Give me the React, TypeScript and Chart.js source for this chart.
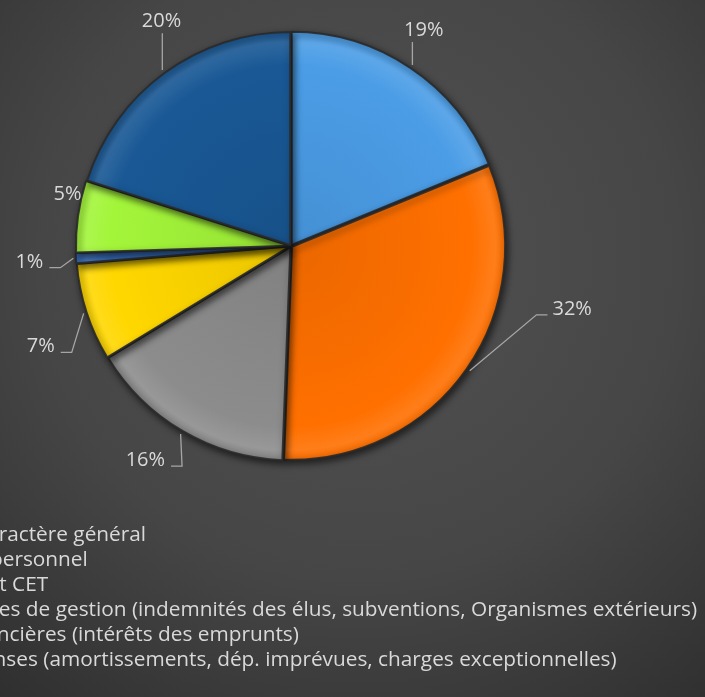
import React, { useEffect, useRef } from "react";
import { Chart, registerables } from "chart.js";

Chart.register(...registerables);

// ---- data ----
const categories: string[] = [
  "Charges à caractère général",
  "Charges de personnel",
  "Fonds FPIC et CET",
  "Autres charges de gestion (indemnités des élus, subventions, Organismes extérieurs)",
  "Charges financières (intérêts des emprunts)",
  "Autres dépenses (amortissements, dép. imprévues, charges exceptionnelles)",
  "Épargne",
];
const shares: number[] = [18.8, 31.8, 15.7, 7.4, 0.8, 5.4, 20.1];
const sliceColors: string[] = ["#4b9de6", "#ff7000", "#8c8c8c", "#ffd700", "#3a74c8", "#a3f53a", "#195895"];

// ---- label layout tweaks (Excel "best fit" placement) ----
const labelNudges: number[][] = [[-12, -1], [68, -87], [-14, -11], [-3, 19], [-2, 0], [34, -17], [24, -16]];
const labelLeaders: boolean[] = [true, true, true, true, true, false, true];

const PAGE_SHIFT = 140; // canvas starts left of the page edge (legend markers are cut off)
const FONT = "20px 'Open Sans'";
const LEGEND_FONT = "20.8px 'Open Sans'";

function shade(hex: string, f: number): string {
  const n = parseInt(hex.slice(1), 16);
  let r = (n >> 16) & 255, g = (n >> 8) & 255, b = n & 255;
  const adj = (c: number) => (f >= 0 ? Math.round(c + (255 - c) * f) : Math.round(c * (1 + f)));
  r = adj(r); g = adj(g); b = adj(b);
  return `rgb(${r},${g},${b})`;
}

const decorPlugin = {
  id: "decor",
  beforeDraw(chart: any) {
    const { ctx, width, height } = chart;
    const cx = PAGE_SHIFT + 360, cy = 260;
    const g = ctx.createRadialGradient(cx, cy, 0, cx, cy, 580);
    g.addColorStop(0, "#525252");
    g.addColorStop(0.55, "#464646");
    g.addColorStop(1, "#2e2e2e");
    ctx.save();
    ctx.fillStyle = g;
    ctx.fillRect(0, 0, width, height);
    ctx.restore();
  },
  beforeDatasetsDraw(chart: any) {
    const ctx = chart.ctx;
    ctx.save();
    ctx.shadowColor = "rgba(0,0,0,0.6)";
    ctx.shadowBlur = 7;
    ctx.shadowOffsetX = 2;
    ctx.shadowOffsetY = 3;
  },
  afterDatasetsDraw(chart: any) {
    const ctx = chart.ctx;
    ctx.restore();
    const meta = chart.getDatasetMeta(0);
    const data = chart.data.datasets[0].data as number[];
    const total = data.reduce((a, b) => a + b, 0);
    ctx.save();
    ctx.font = FONT;
    ctx.fillStyle = "#d9d9d9";
    ctx.strokeStyle = "#a6a6a6";
    ctx.lineWidth = 1.3;
    meta.data.forEach((arc: any, i: number) => {
      const p = arc.getProps(["x", "y", "startAngle", "endAngle", "outerRadius"], true);
      const off = arc.options.offset || 0;
      const mid = (p.startAngle + p.endAngle) / 2;
      const cos = Math.cos(mid), sin = Math.sin(mid);
      const d = 260;
      const lx = p.x + cos * d + labelNudges[i][0];
      const ly = p.y + sin * d + labelNudges[i][1];
      const txt = Math.round((data[i] / total) * 100) + "%";
      const w = ctx.measureText(txt).width;
      const left = lx - w / 2, right = lx + w / 2;
      const base = ly + 7, top = ly - 7;
      ctx.textAlign = "left";
      ctx.textBaseline = "alphabetic";
      ctx.fillText(txt, left, base);
      if (labelLeaders[i]) {
        const ex = p.x + cos * (p.outerRadius + off);
        const ey = p.y + sin * (p.outerRadius + off);
        ctx.beginPath();
        if (ex >= left && ex <= right) {
          ctx.moveTo(ex, ey);
          ctx.lineTo(ex, ey > ly ? base + 6 : top - 6);
        } else if (ex < left) {
          ctx.moveTo(left - 5, base);
          ctx.lineTo(left - 16, base);
          ctx.lineTo(ex, ey);
        } else {
          ctx.moveTo(right + 6, base);
          ctx.lineTo(right + 17, base);
          ctx.lineTo(ex, ey);
        }
        ctx.stroke();
      }
    });
    // legend (vertical list below the pie, starting off the left edge)
    const labels = chart.data.labels as string[];
    ctx.font = LEGEND_FONT;
    const tx = PAGE_SHIFT - 124;
    labels.forEach((lab, i) => {
      const by = 541 + 25 * i;
      ctx.fillStyle = sliceColors[i];
      ctx.fillRect(tx - 18, by - 11, 11, 11);
      ctx.fillStyle = "#d9d9d9";
      ctx.fillText(lab, tx, by);
    });
    ctx.restore();
  },
};

export default function App() {
  const ref = useRef<HTMLCanvasElement | null>(null);
  useEffect(() => {
    if (!ref.current) return;
    const chart = new Chart(ref.current, {
      type: "pie",
      data: {
        labels: categories,
        datasets: [
          {
            data: shares,
            backgroundColor: (c: any) => {
              const base = sliceColors[c.dataIndex] || "#888";
              const area = c.chart.chartArea;
              if (!area) return base;
              const cx = (area.left + area.right) / 2, cy = (area.top + area.bottom) / 2;
              const g = c.chart.ctx.createRadialGradient(cx, cy, 0, cx, cy, 214);
              g.addColorStop(0, shade(base, -0.08));
              g.addColorStop(0.84, base);
              g.addColorStop(0.95, shade(base, 0.1));
              g.addColorStop(1, shade(base, -0.05));
              return g;
            },
            borderColor: "rgba(42,42,42,0.9)",
            borderWidth: 2,
            offset: 5,
          } as any,
        ],
      },
      options: {
        animation: false,
        responsive: true,
        maintainAspectRatio: false,
        radius: 213,
        layout: { padding: { left: 17, right: 0, top: 0, bottom: 205 } },
        plugins: { legend: { display: false }, tooltip: { enabled: false } },
      } as any,
      plugins: [decorPlugin],
    });
    return () => chart.destroy();
  }, []);
  return (
    <div style={{ position: "fixed", left: -PAGE_SHIFT, top: 0, width: 705 + PAGE_SHIFT, height: 697, overflow: "hidden" }}>
      <canvas ref={ref} />
    </div>
  );
}
